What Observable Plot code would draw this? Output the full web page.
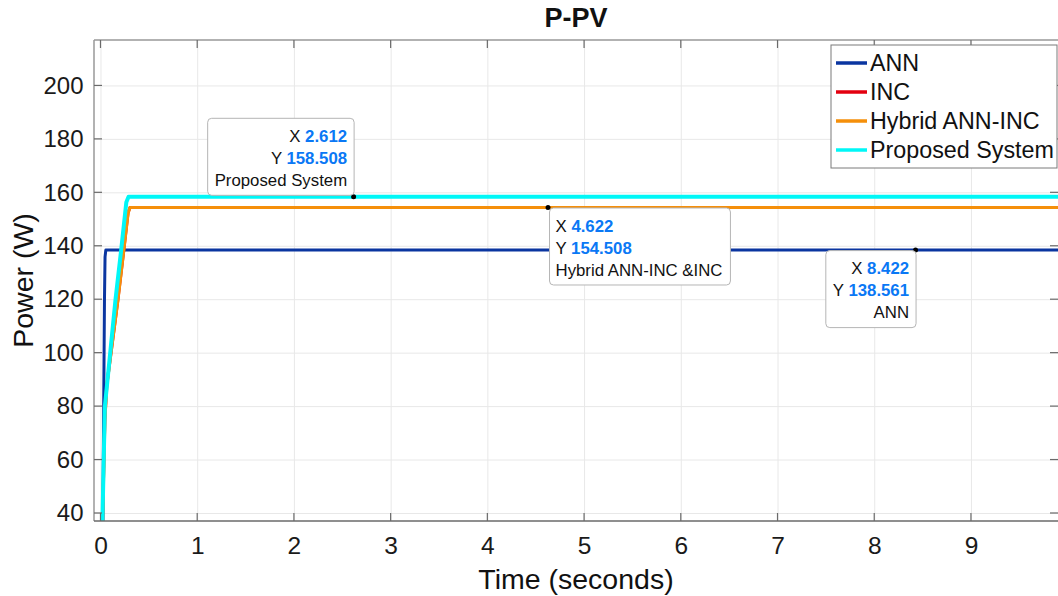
<!DOCTYPE html>
<html><head><meta charset="utf-8">
<script src="https://cdn.jsdelivr.net/npm/d3@7"></script>
<script src="https://cdn.jsdelivr.net/npm/@observablehq/plot@0.6"></script>
<style>
html,body{margin:0;padding:0;background:#fff;}
#chart{width:1058px;height:596px;position:relative;overflow:hidden;}
</style></head><body><div id="chart"></div>
<script>
// ---- data ----
const seriesNames = ["ANN", "INC", "Hybrid ANN-INC", "Proposed System"];
const seriesColors = ["#0a35a0", "#e3000f", "#f58f0a", "#00f7f7"];

const annTime = [0.02, 0.028, 0.036, 0.042, 0.05, 10];
const annPower = [37, 80, 120, 136, 138.561, 138.561];

const incTime = [0.016, 0.04, 0.06, 0.175, 0.236, 0.28, 0.30, 10];
const incPower = [37, 75, 88, 120, 138.6, 152.5, 154.508, 154.508];

const hybridTime = [0.016, 0.04, 0.06, 0.175, 0.236, 0.28, 0.30, 10];
const hybridPower = [37, 75, 88, 120, 138.6, 152.5, 154.508, 154.508];

const proposedTime = [0.015, 0.04, 0.15, 0.209, 0.262, 0.285, 10];
const proposedPower = [37, 80, 120, 138.7, 156.5, 158.508, 158.508];

const tipX = [2.612, 4.622, 8.422];
const tipY = [158.508, 154.508, 138.561];
const tipLabel = ["Proposed System", "Hybrid ANN-INC &INC", "ANN"];

const xTicks = [0, 1, 2, 3, 4, 5, 6, 7, 8, 9];
const yTicks = [40, 60, 80, 100, 120, 140, 160, 180, 200];

const titleText = "P-PV";
const xLabel = "Time (seconds)";
const yLabel = "Power (W)";

// ---- build ----
const seriesData = [
  [annTime, annPower], [incTime, incPower], [hybridTime, hybridPower], [proposedTime, proposedPower]
].map(([t, p], i) => t.map((tt, j) => ({t: tt, p: p[j], s: seriesNames[i]})));
const tips = tipX.map((x, i) => ({x, y: tipY[i], label: tipLabel[i]}));
const widths = [3, 3, 3.2, 4];

const W = 1058, H = 596, mL = 94, mT = 40, mR = 0, mB = 75;
const font = '"Liberation Sans", Arial, Helvetica, sans-serif';

const chart = Plot.plot({
  width: W, height: H, marginLeft: mL, marginTop: mT, marginRight: mR, marginBottom: mB,
  x: {domain: [-0.067, 9.9]},
  y: {domain: [37, 217]},
  color: {domain: seriesNames, range: seriesColors},
  style: {background: "#fff", fontFamily: font, color: "#1a1a1a"},
  marks: [
    Plot.gridX(xTicks, {stroke: "#e8e8e8", strokeOpacity: 1}),
    Plot.gridY(yTicks, {stroke: "#e8e8e8", strokeOpacity: 1}),
    ...seriesData.map((d, i) => Plot.line(d, {x: "t", y: "p", stroke: "s", strokeWidth: widths[i], strokeLinejoin: "round", clip: true})),
    Plot.dot(tips, {x: "x", y: "y", r: 2.5, fill: "#000"}),
    Plot.axisX(xTicks, {tickSize: 0, tickPadding: 15, fontSize: 24.5, label: null, tickFormat: d => String(d)}),
    Plot.axisY(yTicks, {tickSize: 0, tickPadding: 11, fontSize: 24, label: null, tickFormat: d => String(d)})
  ]
});
document.getElementById("chart").appendChild(chart);

const sx = chart.scale("x"), sy = chart.scale("y");
const svg = d3.select(chart);
const x0 = mL, x1 = W - mR, y0 = mT, y1 = H - mB;

// spines
const spine = svg.append("g").attr("stroke", "#999").attr("stroke-width", 1.5).attr("fill", "none");
spine.append("line").attr("x1", x0).attr("x2", x1).attr("y1", y0).attr("y2", y0);
spine.append("line").attr("x1", x0).attr("x2", x0).attr("y1", y0).attr("y2", y1);
spine.append("line").attr("x1", x0).attr("x2", x1).attr("y1", y1).attr("y2", y1).attr("stroke", "#6a6a6a");
// inward ticks
const tk = svg.append("g").attr("stroke", "#6a6a6a").attr("stroke-width", 1.2);
xTicks.forEach(v => {
  const X = sx.apply(v);
  tk.append("line").attr("x1", X).attr("x2", X).attr("y1", y1).attr("y2", y1 - 8);
  tk.append("line").attr("x1", X).attr("x2", X).attr("y1", y0).attr("y2", y0 + 8);
});
yTicks.forEach(v => {
  const Y = sy.apply(v);
  tk.append("line").attr("x1", x0).attr("x2", x0 + 8).attr("y1", Y).attr("y2", Y);
  tk.append("line").attr("x1", x1).attr("x2", x1 - 8).attr("y1", Y).attr("y2", Y);
});

// title and axis labels
svg.append("text").attr("x", (x0 + x1) / 2).attr("y", 27).attr("text-anchor", "middle")
  .style("font-family", font).style("font-weight", "bold").style("font-size", "27px").attr("fill", "#111").text(titleText);
svg.append("text").attr("x", (x0 + x1) / 2).attr("y", 589).attr("text-anchor", "middle")
  .style("font-family", font).style("font-size", "28.5px").attr("fill", "#111").text(xLabel);
svg.append("text").attr("transform", `translate(33,${(y0 + y1) / 2}) rotate(-90)`).attr("text-anchor", "middle")
  .style("font-family", font).style("font-size", "28.5px").attr("fill", "#111").text(yLabel);

// data tips
const placement = {"Proposed System": "br", "Hybrid ANN-INC &INC": "tl", "ANN": "tr"};
tips.forEach(d => {
  const px = sx.apply(d.x), py = sy.apply(d.y);
  const g = svg.append("g");
  const rect = g.append("rect");
  const t = g.append("g");
  const anchor = placement[d.label];
  const right = anchor.includes("r");
  const lines = [["X ", d.x.toFixed(3)], ["Y ", d.y.toFixed(3)], [d.label, null]];
  lines.forEach((ln, i) => {
    const tx = t.append("text").attr("y", 18 + i * 22).attr("dy", "0.35em")
      .attr("text-anchor", right ? "end" : "start").attr("fill", "#111")
      .style("font-family", font).style("font-size", "16.8px");
    tx.append("tspan").text(ln[0]);
    if (ln[1] !== null) tx.append("tspan").style("font-weight", "bold").attr("fill", "#0a78f5").text(ln[1]);
  });
  const tw = t.node().getBBox().width;
  const bw = tw + 14, bh = 77;
  const left = right ? px + 1 - bw : px + 2;
  const top = anchor.includes("b") ? py - 1 - bh : py + 1;
  rect.attr("x", left).attr("y", top).attr("width", bw).attr("height", bh).attr("rx", 4)
    .attr("fill", "#fff").attr("stroke", "#b5b5b5").attr("stroke-width", 1);
  t.attr("transform", `translate(${right ? left + bw - 7 : left + 6},${top})`);
});

// legend
const lg = svg.append("g");
const lgX = 831, lgY = 45, lgW = 226, lgH = 123;
lg.append("rect").attr("x", lgX).attr("y", lgY).attr("width", lgW).attr("height", lgH)
  .attr("fill", "#fff").attr("stroke", "#7a7a7a").attr("stroke-width", 1);
seriesNames.forEach((n, i) => {
  const cy = lgY + 18 + i * 29;
  lg.append("line").attr("x1", lgX + 5).attr("x2", lgX + 36).attr("y1", cy).attr("y2", cy)
    .attr("stroke", seriesColors[i]).attr("stroke-width", 3.5);
  lg.append("text").attr("x", lgX + 39).attr("y", cy).attr("dy", "0.36em").attr("text-anchor", "start")
    .attr("fill", "#111").style("font-family", font).style("font-size", "23.3px").text(n);
});
</script></body></html>
